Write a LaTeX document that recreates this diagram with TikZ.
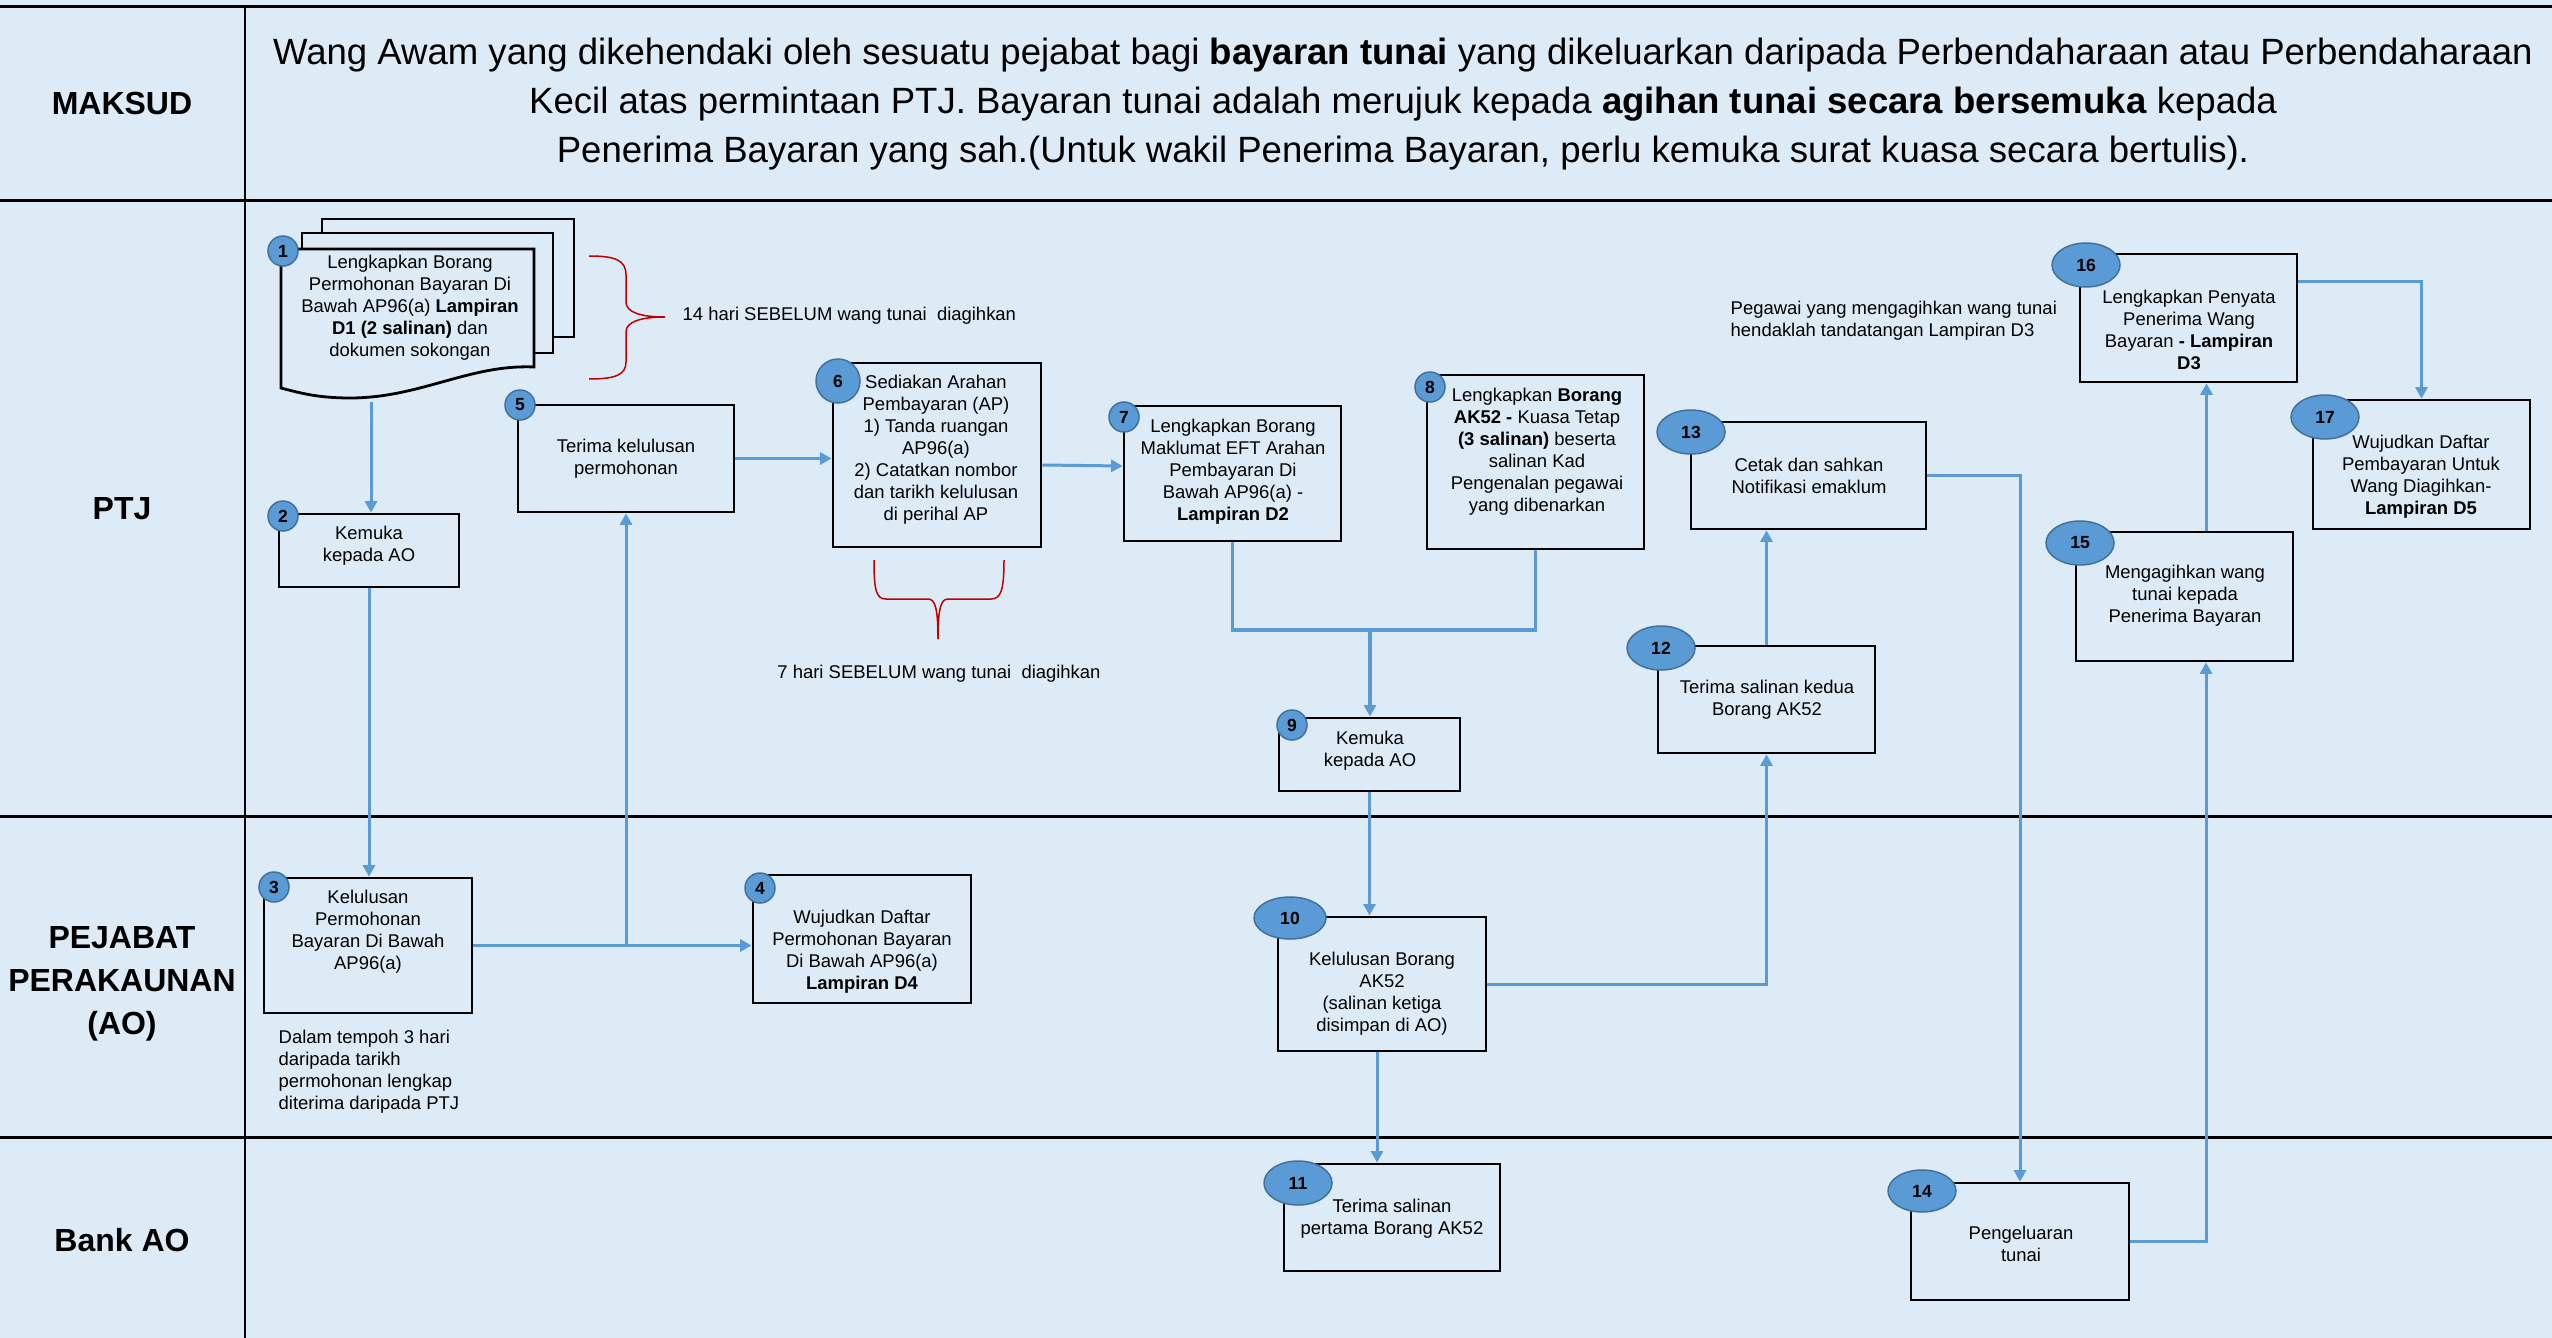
\documentclass[tikz,border=0pt]{standalone}
\usepackage{fontspec}
\setmainfont{Liberation Sans}
\usetikzlibrary{arrows.meta,shapes.geometric}
\definecolor{bg}{HTML}{DDEBF7}
\definecolor{cfill}{HTML}{5B9BD5}
\definecolor{cdraw}{HTML}{41719C}
\definecolor{arrc}{HTML}{5B9BD5}
\definecolor{bred}{HTML}{C00000}
\tikzset{
  lane/.style={line width=0.3mm, draw=black},
  stepbox/.style={draw=black, line width=0.28mm, fill=bg, inner sep=0pt},
  txt/.style={inner sep=0pt, align=center, font=\fontsize{5.25}{6.24}\selectfont},
  ltxt/.style={inner sep=0pt, align=left, anchor=west, font=\fontsize{5.25}{6.24}\selectfont},
  num/.style={circle, fill=cfill, draw=cdraw, line width=0.15mm, minimum size=3mm, inner sep=0pt, font=\bfseries\fontsize{5}{6}\selectfont},
  numbig/.style={num, minimum size=4.4mm},
  nume/.style={ellipse, fill=cfill, draw=cdraw, line width=0.15mm, minimum width=6.8mm, minimum height=4.4mm, inner sep=0pt, font=\bfseries\fontsize{5}{6}\selectfont},
  conn/.style={draw=arrc, line width=0.3mm},
  arr/.style={conn, -{Triangle[length=1.15mm,width=1.2mm]}},
  brace/.style={draw=bred, line width=0.15mm},
  lanelabel/.style={inner sep=0pt, align=center, font=\bfseries\fontsize{9.1}{12.2}\selectfont},
}
\begin{document}
\begin{tikzpicture}[x=0.1mm, y=-0.1mm]
\useasboundingbox (0,0) rectangle (2552,1338);
\fill[bg] (0,0) rectangle (2552,1338);

% lanes
\draw[lane] (0,6) -- (2552,6);
\draw[lane] (0,200) -- (2552,200);
\draw[lane] (0,816) -- (2552,816);
\draw[lane] (0,1137) -- (2552,1137);
\draw[line width=0.25mm] (245,6) -- (245,1338);

\node[lanelabel] (lmaksud) at (122,103) {MAKSUD};
\node[lanelabel] (lptj) at (122,509) {PTJ};
\node[lanelabel] (lao) at (122,984) {PEJABAT\\PERAKAUNAN\\(AO)};
\node[lanelabel] (lbank) at (122,1240) {Bank AO};

\node[inner sep=0pt, align=center, font=\fontsize{10.4}{14}\selectfont] (hdr) at (1403,104)
 {Wang Awam yang dikehendaki oleh sesuatu pejabat bagi \textbf{bayaran tunai} yang dikeluarkan daripada Perbendaharaan atau Perbendaharaan\\
  Kecil atas permintaan PTJ. Bayaran tunai adalah merujuk kepada \textbf{agihan tunai secara bersemuka} kepada\\
  Penerima Bayaran yang sah.(Untuk wakil Penerima Bayaran, perlu kemuka surat kuasa secara bertulis).};

% document stack (step 1)
\draw[line width=0.28mm, fill=bg] (322,219) rectangle (574,337);
\draw[line width=0.28mm, fill=bg] (302,233) rectangle (553,353);
\draw[line width=0.28mm, fill=bg] (281,249) -- (534,249) -- (534,367)
  .. controls (470,364) and (420,398) .. (350,398)
  .. controls (318,398) and (300,393) .. (281,388) -- cycle;
\coordinate (n1b) at (371,402);

% boxes
\node[stepbox, minimum width=18mm, minimum height=7.3mm] (n2) at (369,550.5) {};
\node[stepbox, minimum width=20.8mm, minimum height=13.5mm] (n3) at (368,945.5) {};
\node[stepbox, minimum width=21.8mm, minimum height=12.8mm] (n4) at (862,939) {};
\node[stepbox, minimum width=21.6mm, minimum height=10.7mm] (n5) at (626,458.5) {};
\node[stepbox, minimum width=20.8mm, minimum height=18.4mm] (n6) at (937,455) {};
\node[stepbox, minimum width=21.7mm, minimum height=13.5mm] (n7) at (1232.5,473.5) {};
\node[stepbox, minimum width=21.7mm, minimum height=17.4mm] (n8) at (1535.5,462) {};
\node[stepbox, minimum width=18.1mm, minimum height=7.3mm] (n9) at (1369.5,754.5) {};
\node[stepbox, minimum width=20.8mm, minimum height=13.4mm] (n10) at (1382,984) {};
\node[stepbox, minimum width=21.6mm, minimum height=10.7mm] (n11) at (1392,1217.5) {};
\node[stepbox, minimum width=21.7mm, minimum height=10.7mm] (n12) at (1766.5,699.5) {};
\node[stepbox, minimum width=23.5mm, minimum height=10.7mm] (n13) at (1808.5,475.5) {};
\node[stepbox, minimum width=21.8mm, minimum height=11.7mm] (n14) at (2020,1241.5) {};
\node[stepbox, minimum width=21.7mm, minimum height=12.9mm] (n15) at (2184.5,596.5) {};
\node[stepbox, minimum width=21.7mm, minimum height=12.8mm] (n16) at (2188.5,318) {};
\node[stepbox, minimum width=21.7mm, minimum height=12.9mm] (n17) at (2421.5,464.5) {};

% connectors
\draw[arr] (n1b) -- (n1b |- n2.north);
\draw[arr] (n2.south) -- (n2.south |- n3.north);
\draw[arr] (n3.east) -- (n3.east -| n4.west);
\coordinate (j35) at (626,945.5);
\draw[arr] (j35) -- (j35 |- n5.south);
\draw[arr] (n5.east) -- (n5.east -| n6.west);
\draw[arr] (n6.east |- 0,465) -- (n7.west |- 0,466);
\coordinate (m78) at (1370,630);
\draw[conn, line width=0.35mm] (n7.south) -- (n7.south |- m78) -- (n8.south |- m78) -- (n8.south);
\draw[arr, line width=0.35mm] (m78) -- (m78 |- n9.north);
\draw[arr] (n9.south) -- (n9.south |- n10.north);
\draw[arr] ([xshift=-0.5mm]n10.south) -- ([xshift=-0.5mm]n10.south |- n11.north);
\draw[arr] (n10.east) -| (n12.south);
\draw[arr] (n12.north) -- (n12.north |- n13.south);
\draw[arr] (n13.east) -| (n14.north);
\draw[arr] (n14.east) -| ([xshift=2.15mm]n15.south);
\draw[arr] ([xshift=2.2mm]n15.north) -- ([xshift=2.2mm]n15.north |- n16.south);
\draw[arr] (n16.east |- 0,281) -| (n17.north);

% number markers
\node[num] (c1) at (283,251) {1};
\node[num] (c2) at (283,516) {2};
\node[num] (c3) at (274,887) {3};
\node[num] (c4) at (760,888) {4};
\node[num] (c5) at (520,405) {5};
\node[numbig] (c6) at (838,381) {6};
\node[num] (c7) at (1124,417) {7};
\node[num] (c8) at (1430,387) {8};
\node[num] (c9) at (1292,725) {9};
\node[nume, minimum width=7.2mm, minimum height=4.2mm] (c10) at (1290,918) {10};
\node[nume] (c11) at (1298,1183) {11};
\node[nume] (c12) at (1661,648) {12};
\node[nume] (c13) at (1691,432) {13};
\node[nume, minimum height=4.2mm] (c14) at (1922,1191) {14};
\node[nume] (c15) at (2080,543) {15};
\node[nume] (c16) at (2086,265) {16};
\node[nume] (c17) at (2325,417) {17};

% texts
\node[txt] (t1) at (410,308) {Lengkapkan Borang\\Permohonan Bayaran Di\\Bawah AP96(a) \textbf{Lampiran}\\\textbf{D1 (2 salinan)} dan\\dokumen sokongan};
\node[txt] (t2) at (369,546) {Kemuka\\kepada AO};
\node[txt] (t3) at (368,932) {Kelulusan\\Permohonan\\Bayaran Di Bawah\\AP96(a)};
\node[txt] (t4) at (862,952) {Wujudkan Daftar\\Permohonan Bayaran\\Di Bawah AP96(a)\\\textbf{Lampiran D4}};
\node[txt] (t5) at (626,459) {Terima kelulusan\\permohonan};
\node[txt] (t6) at (936,450) {Sediakan Arahan\\Pembayaran (AP)\\1) Tanda ruangan\\AP96(a)\\2) Catatkan nombor\\dan tarikh kelulusan\\di perihal AP};
\node[txt] (t7) at (1233,472) {Lengkapkan Borang\\Maklumat EFT Arahan\\Pembayaran Di\\Bawah AP96(a) -\\\textbf{Lampiran D2}};
\node[txt] (t8) at (1537,452) {Lengkapkan \textbf{Borang}\\\textbf{AK52 -} Kuasa Tetap\\\textbf{(3 salinan)} beserta\\salinan Kad\\Pengenalan pegawai\\yang dibenarkan};
\node[txt] (t9) at (1370,751) {Kemuka\\kepada AO};
\node[txt] (t10) at (1382,994) {Kelulusan Borang\\AK52\\(salinan ketiga\\disimpan di AO)};
\node[txt] (t11) at (1392,1219) {Terima salinan\\pertama Borang AK52};
\node[txt] (t12) at (1767,700) {Terima salinan kedua\\Borang AK52};
\node[txt] (t13) at (1809,476) {Cetak dan sahkan\\Notifikasi emaklum};
\node[txt] (t14) at (2021,1244) {Pengeluaran\\tunai};
\node[txt] (t15) at (2185,596) {Mengagihkan wang\\tunai kepada\\Penerima Bayaran};
\node[txt] (t16) at (2189,330) {Lengkapkan Penyata\\Penerima Wang\\Bayaran \textbf{- Lampiran}\\\textbf{D3}};
\node[txt] (t17) at (2421,477) {Wujudkan Daftar\\Pembayaran Untuk\\Wang Diagihkan-\\\textbf{Lampiran D5}};

\node[ltxt] (note14) at (682,316) {14 hari SEBELUM wang tunai\ \ diagihkan};
\node[txt] (note7) at (939,674) {7 hari SEBELUM wang tunai\ \ diagihkan};
\node[ltxt] (note3) at (278,1072) {Dalam tempoh 3 hari\\daripada tarikh\\permohonan lengkap\\diterima daripada PTJ};
\node[ltxt] (noted3) at (1730,321) {Pegawai yang mengagihkan wang tunai\\hendaklah tandatangan Lampiran D3};

% braces
\draw[brace] (589,256) .. controls (615,256) and (626,260) .. (626,275) -- (626,302)
  .. controls (626,312) and (640,317) .. (665,317)
  .. controls (640,317) and (626,322) .. (626,332) -- (626,362)
  .. controls (626,375) and (615,379) .. (589,379);
\draw[brace] (874,560) .. controls (874,590) and (876,599) .. (886,599) -- (928,599)
  .. controls (935,599) and (938,608) .. (938,639);
\draw[brace] (1004,560) .. controls (1004,590) and (1001,599) .. (991,599) -- (948,599)
  .. controls (941,599) and (938,608) .. (938,639);
\end{tikzpicture}
\end{document}
